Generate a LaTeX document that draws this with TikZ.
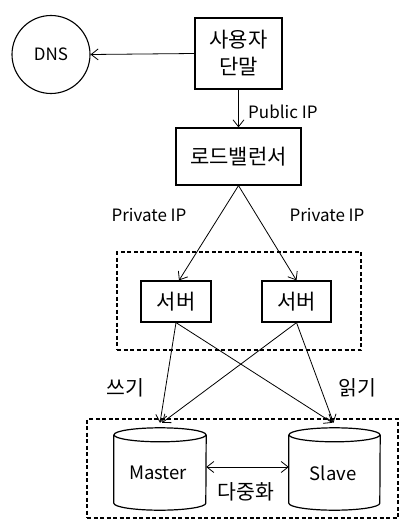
\documentclass[tikz,border=0pt]{standalone}
\usepackage{fontspec}
\setmainfont{Noto Sans CJK KR}
\usetikzlibrary{arrows.meta,calc}
\begin{document}
\begin{tikzpicture}[x=1pt,y=-1pt,
  box/.style={draw,line width=1.2pt,inner sep=0pt,font=\fontsize{21}{27}\selectfont,align=center},
  lbl/.style={font=\fontsize{17}{19}\selectfont,inner sep=0pt},
  klbl/.style={font=\fontsize{20.5}{22}\selectfont,inner sep=0pt},
  conn/.style={line width=0.8pt,-{Straight Barb[length=7pt,width=11pt,line width=0.8pt]}},
  grp/.style={draw,line width=1.1pt,dash pattern=on 4pt off 2.5pt},
  cyl/.style={line width=1.2pt}]
\useasboundingbox (0,0) rectangle (410,527);
% DNS
\node[draw,circle,line width=1.1pt,minimum size=78pt,inner sep=0pt,font=\fontsize{17}{20}\selectfont] (dns) at (51,54.5) {DNS};
% user
\node[box,minimum width=87pt,minimum height=71pt] (user) at (238.5,53.5) {사용자\\단말};
% load balancer
\node[box,minimum width=125pt,minimum height=57pt] (lb) at (238.5,156.5) {로드밸런서};
% server group
\node[grp,minimum width=244pt,minimum height=98pt] (sgrp) at (239,301) {};
\node[box,minimum width=70pt,minimum height=41pt] (s1) at (176,301.5) {서버};
\node[box,minimum width=69pt,minimum height=41pt] (s2) at (296.5,301.5) {서버};
% db group
\node[grp,minimum width=311pt,minimum height=99pt] (dgrp) at (242.5,468.5) {};
% cylinders
\node[minimum width=92pt,minimum height=82pt,inner sep=0pt] (master) at (160,469) {};
\node[minimum width=91pt,minimum height=82pt,inner sep=0pt] (slave) at (334.5,469) {};
\draw[cyl] ($(master.north west)+(0,7)$) -- ($(master.south west)+(0,-7)$) arc[start angle=180,end angle=360,x radius=46pt,y radius=7pt] -- ($(master.north east)+(0,7)$);
\draw[cyl] ($(master.north)+(0,7)$) ellipse[x radius=46pt,y radius=7pt];
\draw[cyl] ($(slave.north west)+(0,7)$) -- ($(slave.south west)+(0,-7)$) arc[start angle=180,end angle=360,x radius=45.5pt,y radius=7pt] -- ($(slave.north east)+(0,7)$);
\draw[cyl] ($(slave.north)+(0,7)$) ellipse[x radius=45.5pt,y radius=7pt];
\node[font=\fontsize{18.5}{20}\selectfont] (mtxt) at (158,473) {Master};
\node[font=\fontsize{18.5}{20}\selectfont] (stxt) at (333,473) {Slave};
% connectors
\draw[conn] (user.west) -- (dns.east);
\draw[conn] (user.south) -- (lb.north);
\node[lbl,anchor=west] (pub) at (248,112) {Public IP};
\draw[conn] (lb.south) -- ($(s1.north)+(3,0)$);
\draw[conn] (lb.south) -- (s2.north);
\node[lbl] (priv1) at (149,215) {Private IP};
\node[lbl] (priv2) at (327,215) {Private IP};
\draw[conn] (s1.south) -- ($(master.north)+(0,-5)$);
\draw[conn] (s2.south) -- ($(master.north)+(2,-5)$);
\draw[conn] (s1.south) -- ($(slave.north)+(-2,-5)$);
\draw[conn] (s2.south) -- ($(slave.north)+(-1,-5)$);
\node[klbl] (write) at (125,388) {쓰기};
\node[klbl] (read) at (357,388) {읽기};
\draw[line width=0.8pt,{Straight Barb[length=7pt,width=11pt,line width=0.8pt]}-{Straight Barb[length=7pt,width=11pt,line width=0.8pt]}] (master.east |- 0,467) -- (slave.west |- 0,467);
\node[klbl] (rep) at (246,492) {다중화};
\end{tikzpicture}
\end{document}
